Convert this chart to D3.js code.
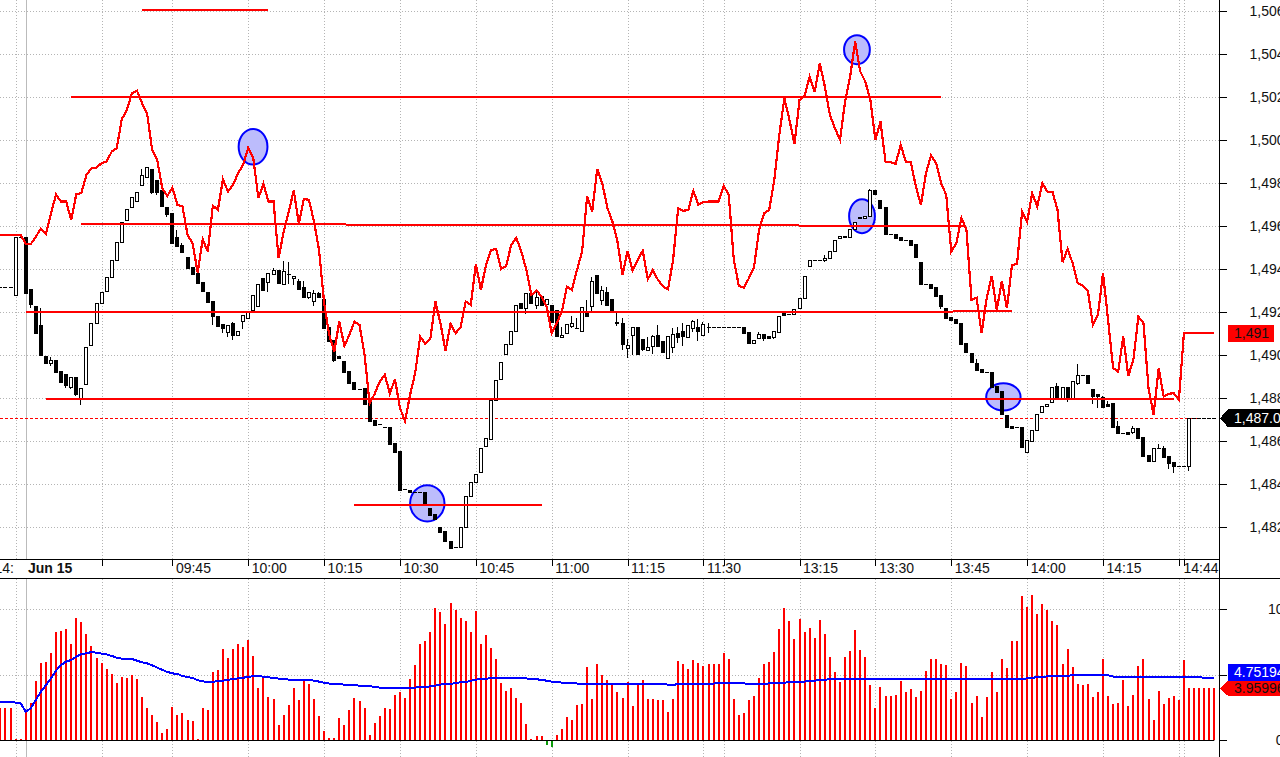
<!DOCTYPE html>
<html>
<head>
<meta charset="utf-8">
<script src="https://cdnjs.cloudflare.com/ajax/libs/d3/7.8.5/d3.min.js"></script>
<style>
  html, body { margin: 0; padding: 0; background: #fff; overflow: hidden; }
  svg { display: block; }
  text { font-family: "Liberation Sans", Arial, sans-serif; font-size: 14px; fill: #111; }
</style>
</head>
<body>
<svg id="chart" width="1280" height="757"></svg>
<script>
// first bar in the arrays is bar -5, bar 0 is the open of Jun 15
const firstBar = -5;

const opens = [1493.17,1493.17,1493.17,1492.80,1495.49,
  1495.49,1493.07,1492.30,1491.41,1489.97,1489.66,1489.77,1489.27,1489.12,1488.54,
  1488.98,1487.96,1488.66,1490.47,1491.49,1492.42,1493.01,1493.63,1494.42,1495.29,
  1496.27,1496.89,1497.17,1497.91,1498.31,1498.67,1498.16,1497.69,1496.90,1496.64,
  1495.49,1495.14,1494.56,1494.10,1493.82,1493.40,1492.93,1492.52,1491.82,1491.46,
  1491.07,1491.51,1490.94,1491.59,1491.73,1492.13,1492.27,1493.59,1493.40,1493.80,
  1493.96,1493.31,1493.80,1493.59,1493.46,1493.17,1492.70,1492.54,1492.89,1492.61,
  1491.31,1490.72,1489.96,1489.74,1489.27,1488.75,1488.45,1488.47,1487.82,1486.98,
  1486.80,1486.66,1486.66,1485.93,1485.54,1483.77,1483.73,1483.63,1483.63,1483.63,
  1482.90,1482.62,1482.01,1481.83,1481.37,1481.08,1481.10,1482.01,1483.45,1484.10,
  1484.56,1485.77,1486.13,1487.91,1488.89,1490.08,1490.52,1491.12,1492.44,1492.19,
  1492.89,1492.33,1492.76,1492.38,1492.33,1492.11,1490.87,1491.06,1491.38,1491.29,
  1491.15,1491.99,1492.27,1493.74,1492.59,1492.95,1492.62,1491.55,1491.51,1490.36,
  1490.94,1491.32,1490.76,1490.24,1490.42,1490.95,1490.66,1489.89,1490.40,1491.04,
  1491.13,1490.87,1491.29,1491.32,1490.96,1491.32,1491.31,1491.31,1491.31,1491.31,
  1491.31,1491.31,1491.32,1491.07,1490.59,1490.82,1490.98,1490.89,1490.87,1491.10,
  1491.99,1491.91,1491.91,1492.19,1492.66,1494.14,1494.42,1494.42,1494.42,1494.52,
  1494.84,1495.45,1495.57,1495.49,1495.86,1496.42,1496.38,1496.47,1497.69,1497.23,
  1496.89,1495.63,1495.63,1495.49,1495.35,1495.35,1495.17,1494.33,1493.31,1493.31,
  1493.17,1492.81,1492.19,1491.77,1491.68,1491.49,1490.56,1490.10,1489.63,1489.35,
  1489.21,1489.21,1488.58,1488.33,1487.21,1486.70,1486.66,1486.66,1485.52,1486.03,
  1486.54,1487.38,1487.62,1487.85,1488.58,1488.01,1488.52,1488.01,1488.72,1489.09,
  1489.09,1488.44,1488.21,1488.05,1487.73,1487.79,1486.72,1486.38,1486.42,1486.42,
  1486.62,1486.20,1485.37,1485.10,1485.68,1485.69,1485.32,1485.04,1484.87,1484.87,
  1484.87,1487.07,1487.07,1487.07,1487.07,1487.07];

const closes = [1493.17,1493.17,1493.17,1495.49,1495.49,
  1492.92,1492.38,1491.06,1490.02,1489.63,1489.77,1489.23,1488.76,1488.62,1488.98,
  1488.21,1488.47,1490.38,1491.49,1492.42,1492.93,1493.63,1494.42,1495.26,1496.19,
  1496.80,1497.35,1497.61,1498.38,1498.75,1497.59,1497.59,1496.96,1496.58,1495.24,
  1495.09,1494.81,1494.08,1493.80,1493.38,1493.01,1492.47,1491.82,1491.38,1491.29,
  1491.40,1490.96,1491.15,1491.87,1492.05,1492.80,1493.31,1493.06,1493.82,1493.99,
  1493.34,1493.91,1493.80,1493.71,1493.07,1492.70,1492.93,1492.89,1492.70,1491.29,
  1490.68,1489.80,1489.89,1489.24,1488.73,1488.41,1488.45,1487.75,1486.96,1486.78,
  1486.80,1486.66,1485.89,1485.52,1483.75,1483.77,1483.62,1483.63,1483.63,1483.08,
  1482.58,1482.38,1481.80,1481.34,1481.06,1481.08,1482.01,1483.45,1484.10,1484.48,
  1485.68,1486.14,1487.91,1488.84,1489.68,1490.52,1491.12,1492.33,1492.22,1492.89,
  1492.45,1492.70,1492.35,1492.61,1491.57,1490.92,1490.96,1491.45,1491.49,1491.29,
  1492.24,1491.85,1493.45,1492.92,1493.03,1492.36,1492.05,1491.48,1490.54,1490.47,
  1491.31,1490.08,1490.30,1490.38,1490.89,1490.45,1490.16,1490.89,1490.98,1490.86,
  1490.90,1491.40,1491.59,1491.15,1491.45,1491.32,1491.31,1491.31,1491.31,1491.31,
  1491.31,1491.31,1491.06,1490.59,1490.70,1490.99,1490.82,1490.82,1491.12,1491.82,
  1491.89,1491.91,1492.14,1492.67,1493.68,1494.42,1494.42,1494.42,1494.52,1494.84,
  1495.38,1495.57,1495.49,1495.86,1496.19,1496.38,1496.47,1497.68,1497.52,1496.87,
  1495.63,1495.63,1495.47,1495.34,1495.35,1495.15,1494.59,1493.31,1493.31,1493.15,
  1492.78,1492.31,1491.75,1491.66,1491.52,1490.54,1490.17,1489.71,1489.32,1489.20,
  1489.21,1488.54,1488.31,1487.29,1486.68,1486.64,1486.66,1485.75,1486.05,1486.52,
  1487.26,1487.63,1487.73,1488.52,1488.01,1488.52,1488.01,1488.80,1489.08,1489.09,
  1488.73,1488.13,1488.13,1487.61,1487.66,1486.67,1486.40,1486.38,1486.36,1486.61,
  1486.16,1485.32,1485.10,1485.68,1485.68,1485.27,1484.99,1484.87,1484.87,1484.87,
  1487.07,1487.07,1487.07,1487.07,1487.07,1487.07];

// only the bars with a visible wick, keyed by bar number
const wickHighs = {3:1492.19,5:1489.94,23:1498.68,30:1495.83,31:1495.23,41:1491.54,49:1494.05,51:1494.39,52:1494.36,
  54:1493.55,55:1493.46,57:1493.04,58:1492.96,101:1493.04,106:1491.31,108:1491.82,109:1491.73,111:1492.58,112:1493.63,
  114:1493.23,115:1493.18,117:1491.99,118:1491.73,119:1490.76,123:1490.87,124:1490.95,125:1491.41,128:1491.26,129:1491.32,
  130:1491.49,132:1491.65,133:1491.68,134:1491.57,135:1491.49,145:1491.09,158:1494.67,167:1497.75,188:1489.85,204:1488.70,
  208:1489.60,213:1488.11,214:1487.88,216:1486.96,219:1486.72,224:1485.87,225:1485.80};
const wickLows = {1:1492.22,5:1489.51,8:1488.48,9:1488.45,10:1488.11,11:1487.69,25:1497.51,26:1497.46,28:1496.45,30:1495.03,
  36:1492.44,37:1491.41,38:1491.34,39:1491.06,40:1490.87,41:1490.72,43:1491.23,45:1492.08,48:1492.95,49:1493.74,52:1493.32,
  53:1493.27,56:1492.62,57:1492.31,61:1489.71,95:1490.05,99:1491.94,101:1492.17,108:1491.26,110:1491.10,112:1492.08,
  114:1492.35,117:1491.34,118:1490.26,119:1489.88,120:1490.02,122:1490.21,124:1490.07,128:1490.13,129:1490.56,130:1490.45,
  132:1491.10,133:1490.67,135:1491.03,142:1491.01,146:1490.68,147:1490.78,148:1490.78,158:1494.33,181:1492.14,206:1487.85,
  208:1488.62,211:1487.74,212:1487.57,219:1486.34,226:1484.73,227:1484.54,230:1484.64};

const redLine = [1495.61,1495.61,1495.61,1495.61,1495.61,
  1495.18,1495.17,1495.52,1495.88,1495.63,1496.61,1497.47,1497.15,1497.15,1496.30,
  1497.49,1497.54,1498.39,1498.70,1498.73,1498.94,1499.01,1499.47,1499.63,1500.98,
  1501.41,1502.19,1502.31,1501.73,1501.26,1499.55,1499.09,1497.77,1497.41,1497.80,
  1497.00,1496.92,1495.60,1495.21,1493.85,1495.40,1494.82,1496.96,1496.76,1498.19,
  1497.61,1497.93,1498.47,1498.86,1499.66,1499.17,1497.31,1497.97,1497.15,1497.15,
  1494.52,1495.74,1496.67,1497.66,1496.14,1497.27,1497.23,1496.22,1494.90,1492.44,
  1490.95,1490.17,1491.57,1490.44,1490.95,1491.57,1491.41,1490.02,1487.77,1488.21,
  1488.78,1489.09,1488.21,1488.90,1487.54,1486.95,1488.16,1489.17,1490.87,1490.53,
  1490.76,1492.50,1491.49,1490.21,1491.46,1491.03,1491.31,1492.50,1492.35,1494.25,
  1493.04,1494.20,1494.90,1494.94,1494.02,1494.16,1495.14,1495.46,1494.82,1493.97,
  1492.81,1493.01,1492.73,1492.27,1491.03,1491.49,1492.03,1493.20,1493.04,1493.97,
  1494.82,1497.38,1496.68,1498.67,1498.00,1496.86,1496.22,1495.29,1493.74,1494.86,
  1493.94,1494.44,1494.87,1493.54,1493.97,1493.51,1493.20,1493.07,1494.44,1496.84,
  1496.72,1496.76,1497.65,1497.00,1497.12,1497.15,1497.15,1497.15,1497.89,1497.46,
  1494.44,1493.23,1493.15,1493.59,1494.10,1495.83,1496.61,1496.76,1498.16,1500.25,
  1501.96,1500.95,1499.83,1501.88,1502.06,1502.96,1502.26,1503.59,1502.50,1501.18,
  1500.56,1500.02,1501.80,1502.96,1504.59,1503.20,1502.73,1501.88,1500.02,1500.87,
  1499.01,1498.98,1498.90,1499.79,1499.01,1498.98,1497.85,1497.00,1498.47,1499.29,
  1498.94,1498.00,1497.46,1494.82,1495.21,1496.39,1495.83,1492.58,1492.68,1491.03,
  1492.66,1493.69,1492.11,1493.46,1492.19,1494.20,1494.25,1496.68,1496.22,1497.54,
  1496.92,1498.00,1497.61,1497.61,1496.76,1494.33,1494.95,1494.28,1493.35,1493.24,
  1493.01,1491.41,1491.88,1493.82,1491.65,1489.40,1489.24,1490.87,1489.04,1489.79,
  1491.80,1491.49,1488.47,1487.23,1489.40,1488.08,1488.21,1488.24,1487.93,1491.03,
  1491.03,1491.03,1491.03,1491.03,1491.03,1491.03];

const volumes = [2.47,2.47,2.47,0.10,0.10,
  2.16,2.85,4.53,5.90,5.98,6.67,8.27,8.35,8.50,7.35,
  9.34,9.03,8.12,7.20,6.28,5.90,5.45,5.06,4.38,4.83,
  4.76,4.99,4.68,3.31,2.47,1.93,1.40,0.56,0.87,2.54,
  1.93,2.09,1.55,1.48,0.10,2.47,2.32,5.22,5.37,6.97,
  6.28,6.97,7.35,7.12,7.66,6.44,3.99,4.91,3.31,3.16,
  1.17,1.93,2.70,3.99,3.08,4.61,4.30,3.16,1.86,0.71,
  0.18,0.18,1.70,1.17,2.32,3.23,3.00,2.47,0.41,1.32,
  1.86,2.47,2.39,3.46,3.69,3.23,4.68,5.75,7.35,7.58,
  8.27,10.10,9.80,8.88,10.48,9.95,9.34,9.11,8.27,9.87,
  7.35,8.04,7.05,6.21,4.38,3.77,3.99,3.23,2.85,1.25,
  0.10,0.33,0.33,-0.36,-0.51,0.41,0.87,1.78,1.55,2.70,
  2.77,5.60,3.16,5.83,4.99,4.61,4.22,3.69,3.23,4.45,
  2.62,4.38,4.61,3.16,3.16,3.08,3.08,2.16,3.16,6.06,
  5.83,5.45,6.13,5.90,5.67,5.83,5.83,5.83,6.67,6.21,
  3.16,1.93,2.09,3.08,3.38,4.76,5.83,5.98,6.74,8.50,
  10.10,9.11,7.74,9.26,8.27,8.58,7.81,9.19,8.12,6.36,
  5.22,4.45,6.36,6.82,8.42,6.90,6.36,4.22,2.47,4.07,
  3.38,3.38,3.46,4.53,3.69,3.92,3.31,3.77,5.29,6.21,
  6.21,5.83,5.75,3.16,3.69,5.90,5.67,2.85,3.38,1.78,
  3.31,5.22,3.69,6.21,5.52,7.58,7.58,11.02,10.18,11.09,
  9.64,10.41,9.95,9.11,8.80,5.83,6.97,5.60,4.30,4.22,
  4.30,3.31,3.69,6.21,3.38,2.77,2.85,4.61,2.62,3.46,
  5.67,6.21,3.16,1.55,3.77,2.77,3.23,3.38,3.08,6.13,
  3.96,3.96,3.96,3.96,3.96,3.96];

const volumeAverage = [2.93,2.93,2.93,2.88,2.82,
  2.19,2.44,3.08,3.71,4.22,4.73,5.32,5.75,6.01,6.13,
  6.39,6.59,6.64,6.74,6.69,6.62,6.56,6.44,6.31,6.23,
  6.21,6.21,6.08,5.95,5.88,5.73,5.55,5.37,5.22,5.11,
  5.06,4.91,4.83,4.76,4.58,4.50,4.45,4.45,4.53,4.55,
  4.61,4.68,4.73,4.78,4.83,4.91,4.91,4.86,4.81,4.76,
  4.71,4.68,4.63,4.61,4.61,4.61,4.61,4.55,4.48,4.40,
  4.33,4.30,4.30,4.25,4.25,4.22,4.17,4.15,4.15,4.07,
  4.02,4.02,4.02,4.02,4.02,4.02,4.02,4.02,4.07,4.07,
  4.12,4.17,4.25,4.30,4.30,4.38,4.43,4.45,4.55,4.63,
  4.68,4.71,4.73,4.76,4.78,4.78,4.78,4.78,4.78,4.73,
  4.66,4.66,4.61,4.55,4.48,4.48,4.40,4.40,4.40,4.33,
  4.30,4.30,4.30,4.30,4.30,4.30,4.30,4.30,4.30,4.30,
  4.30,4.30,4.30,4.30,4.30,4.30,4.30,4.25,4.22,4.30,
  4.30,4.30,4.30,4.33,4.33,4.33,4.33,4.38,4.38,4.38,
  4.40,4.40,4.35,4.30,4.30,4.30,4.30,4.35,4.38,4.40,
  4.40,4.43,4.45,4.48,4.48,4.55,4.55,4.61,4.63,4.66,
  4.68,4.68,4.68,4.68,4.68,4.68,4.68,4.68,4.68,4.68,
  4.68,4.68,4.68,4.68,4.68,4.68,4.68,4.68,4.68,4.68,
  4.68,4.68,4.68,4.68,4.68,4.68,4.68,4.68,4.68,4.68,
  4.68,4.68,4.68,4.68,4.68,4.68,4.68,4.68,4.73,4.78,
  4.81,4.83,4.88,4.91,4.91,4.93,4.93,4.96,4.96,4.96,
  4.96,4.96,4.96,4.96,4.96,4.86,4.86,4.86,4.86,4.86,
  4.86,4.86,4.86,4.86,4.86,4.86,4.86,4.86,4.86,4.86,
  4.86,4.86,4.86,4.75,4.75,4.75];

const priceTicks = [1482,1484,1486,1488,1490,1492,1494,1496,1498,1500,1502,1504,1506];
const volumeTicks = [0,5,10];
const volumeTickLabels = ["0","","10"];

const timeTicks = [15,29,44,59,74,89,104,119,134,138,153,168,183,198,213,228,229];
const timeLabels = ["","09:45","10:00","10:15","10:30","10:45","11:00","11:15","11:30","","13:15","13:30","13:45","14:00","14:15","","14:44"];
const gridBars = [-2].concat(timeTicks);
const sessionBar = 0;

// trend lines: bar from, bar to, price from, price to
const levelBarsFrom = [23,9,11,0,4,65];
const levelBarsTo = [48,181,186,195,227,102];
const levelPricesFrom = [1506.04,1502.02,1496.11,1491.99,1487.99,1483.04];
const levelPricesTo = [1506.04,1502.02,1496.02,1492.04,1487.97,1483.04];

// circled spots: left bar, right bar, top price, bottom price
const circleLeft = [42.1,161.8,162.8,76,189.9];
const circleRight = [47.8,166.9,167.9,82.8,196.7];
const circleTop = [1500.53,1504.89,1497.26,1483.96,1488.70];
const circleBottom = [1498.87,1503.54,1495.68,1482.27,1487.43];

const lastPrice = 1487.07;
const lastRedValue = 1491.03;

const svg = d3.select("#chart");
const right = 1219.5;

const x = d3.scaleLinear().domain([0, 230]).range([25.7, 1189]);
const yPrice = d3.scaleLinear().domain([1482, 1506]).range([527.3, 11.3]);
const yVol = d3.scaleLinear().domain([0, 10]).range([740.3, 609.3]);

const bars = d3.range(firstBar, firstBar + opens.length);
const crisp = v => Math.round(v) + 0.5;

// grid
const grid = svg.append("g").attr("fill", "none").attr("stroke", "#b4b4b4").attr("stroke-dasharray", "1 2");
gridBars.forEach(b => {
  grid.append("line").attr("x1", crisp(x(b))).attr("x2", crisp(x(b))).attr("y1", 0).attr("y2", 559);
  grid.append("line").attr("x1", crisp(x(b))).attr("x2", crisp(x(b))).attr("y1", 579).attr("y2", 757);
});
priceTicks.forEach(p => {
  grid.append("line").attr("x1", 0).attr("x2", right).attr("y1", crisp(yPrice(p))).attr("y2", crisp(yPrice(p)));
});
[5, 10].forEach(v => {
  grid.append("line").attr("x1", 0).attr("x2", right).attr("y1", crisp(yVol(v))).attr("y2", crisp(yVol(v)));
});
// session start, plain grey line
[[0, 559], [579, 757]].forEach(r => {
  svg.append("line").attr("x1", crisp(x(sessionBar))).attr("x2", crisp(x(sessionBar)))
    .attr("y1", r[0]).attr("y2", r[1]).attr("stroke", "#bbb");
});

// circles go under the candles
svg.append("g").selectAll("ellipse").data(circleLeft).join("ellipse")
  .attr("cx", (d, i) => (x(d) + x(circleRight[i])) / 2)
  .attr("cy", (d, i) => (yPrice(circleTop[i]) + yPrice(circleBottom[i])) / 2)
  .attr("rx", (d, i) => (x(circleRight[i]) - x(d)) / 2)
  .attr("ry", (d, i) => (yPrice(circleBottom[i]) - yPrice(circleTop[i])) / 2)
  .attr("fill", "#bcbcfc").attr("stroke", "#0000ff").attr("stroke-width", 2);

// last price dashed line
svg.append("line").attr("x1", 0).attr("x2", 1198).attr("y1", crisp(yPrice(lastPrice))).attr("y2", crisp(yPrice(lastPrice)))
  .attr("stroke", "#f00").attr("stroke-dasharray", "3 2");

// candles
const candles = svg.append("g").attr("shape-rendering", "crispEdges");
bars.forEach((b, i) => {
  const o = opens[i], c = closes[i];
  const px = Math.round(x(b));
  const top = Math.round(yPrice(Math.max(o, c)));
  const bot = Math.round(yPrice(Math.min(o, c)));
  if (wickHighs[b] !== undefined || wickLows[b] !== undefined) {
    const hi = wickHighs[b] !== undefined ? wickHighs[b] : Math.max(o, c);
    const lo = wickLows[b] !== undefined ? wickLows[b] : Math.min(o, c);
    candles.append("line").attr("x1", px - 0.5).attr("x2", px - 0.5)
      .attr("y1", yPrice(hi)).attr("y2", yPrice(lo)).attr("stroke", "#000");
  }
  if (bot - top < 1) {
    candles.append("line").attr("x1", px - 2).attr("x2", px + 2)
      .attr("y1", top + 0.5).attr("y2", top + 0.5).attr("stroke", "#000");
  } else if (c >= o) {
    candles.append("rect").attr("x", px - 1.5).attr("y", top + 0.5).attr("width", 3).attr("height", bot - top)
      .attr("fill", "#fff").attr("stroke", "#000");
  } else {
    candles.append("rect").attr("x", px - 2).attr("y", top).attr("width", 4).attr("height", bot - top + 1)
      .attr("fill", "#000");
  }
});

// red line
svg.append("path").datum(redLine)
  .attr("fill", "none").attr("stroke", "#f00").attr("stroke-width", 2.2).attr("shape-rendering", "crispEdges")
  .attr("d", d3.line().x((d, i) => x(i + firstBar)).y(d => yPrice(d)));

// level lines
svg.append("g").selectAll("line").data(levelBarsFrom).join("line")
  .attr("x1", d => x(d))
  .attr("x2", (d, i) => x(levelBarsTo[i]))
  .attr("y1", (d, i) => yPrice(levelPricesFrom[i]))
  .attr("y2", (d, i) => yPrice(levelPricesTo[i]))
  .attr("stroke", "#f00").attr("stroke-width", 2).attr("shape-rendering", "crispEdges");

// volume panel
svg.append("g").selectAll("rect").data(volumes).join("rect")
  .attr("x", (d, i) => Math.round(x(i + firstBar)) - 1)
  .attr("y", d => d >= 0 ? yVol(d) : yVol(0))
  .attr("width", 2)
  .attr("height", d => Math.abs(yVol(d) - yVol(0)))
  .attr("fill", d => d >= 0 ? "#f00" : "#0a9a0a")
  .attr("shape-rendering", "crispEdges");

svg.append("line").attr("x1", 0).attr("x2", x(235)).attr("y1", crisp(yVol(0))).attr("y2", crisp(yVol(0)))
  .attr("stroke", "#000");

svg.append("path").datum(volumeAverage)
  .attr("fill", "none").attr("stroke", "#0000ff").attr("stroke-width", 2).attr("shape-rendering", "crispEdges")
  .attr("d", d3.line().x((d, i) => x(i + firstBar)).y(d => yVol(d)));

// time axis
const xAxis = d3.axisBottom(x).tickValues(timeTicks).tickSize(6).tickSizeOuter(0)
  .tickFormat((d, i) => timeLabels[i]);
const gx = svg.append("g").attr("transform", "translate(0,559.5)").call(xAxis);
gx.select(".domain").remove();
gx.selectAll("line").attr("stroke", "#000").attr("shape-rendering", "crispEdges");
gx.selectAll("text").attr("text-anchor", "start").attr("x", (d, i) => i === timeTicks.length - 1 ? -1 : 3).attr("y", 0).attr("dy", "0.95em");
gx.attr("font-size", null).attr("font-family", null);
svg.append("text").attr("x", 28).attr("y", 573).attr("font-weight", "bold").text("Jun 15");
svg.append("text").attr("x", 14).attr("y", 573).attr("text-anchor", "end").text("14:");

// frame lines
svg.append("line").attr("x1", 0).attr("x2", right).attr("y1", 559.5).attr("y2", 559.5).attr("stroke", "#000");
svg.append("line").attr("x1", 0).attr("x2", 1280).attr("y1", 578.5).attr("y2", 578.5).attr("stroke", "#000");

// price and volume axes
const yAxis = d3.axisRight(yPrice).tickValues(priceTicks).tickSize(7).tickPadding(23).tickFormat(d3.format(","));
const gy = svg.append("g").attr("transform", `translate(${right},0)`).call(yAxis);
const volAxis = d3.axisRight(yVol).tickValues(volumeTicks).tickSize(7).tickPadding(23)
  .tickFormat((d, i) => volumeTickLabels[i]);
const gv = svg.append("g").attr("transform", `translate(${right},0)`).call(volAxis);
[gy, gv].forEach(g => {
  g.attr("font-size", null).attr("font-family", null);
  g.select(".domain").remove();
  g.selectAll("line").attr("stroke", "#000").attr("shape-rendering", "crispEdges");
});
gv.selectAll("text").attr("x", 64).attr("text-anchor", "end");
svg.append("line").attr("x1", right).attr("x2", right).attr("y1", 0).attr("y2", 757).attr("stroke", "#000");

// value tags on the right
function tag(yc, fill, textFill, label, arrow, boxRight, h) {
  const up = yc - h / 2, dn = yc + h / 2;
  const pts = arrow
    ? [[1220, yc], [1228, up], [boxRight, up], [boxRight, dn], [1228, dn]]
    : [[1228, up], [boxRight, up], [boxRight, dn], [1228, dn]];
  svg.append("polygon").attr("points", pts.join(" ")).attr("fill", fill).attr("shape-rendering", "crispEdges");
  svg.append("text").attr("x", 1234).attr("y", yc + 5).style("fill", textFill).text(label);
}
tag(yPrice(lastRedValue), "#f00", "#111", d3.format(",")(Math.round(lastRedValue)), false, 1274, 17);
tag(yPrice(lastPrice), "#000", "#fff", d3.format(",.1f")(Math.floor(lastPrice * 10) / 10), true, 1280, 18);
tag(yVol(volumeAverage[volumeAverage.length - 1]) - 6, "#0000ff", "#fff", "4.75194", false, 1280, 17);
tag(yVol(volumes[volumes.length - 1]), "#f00", "#111", "3.95996", true, 1280, 15);
</script>
</body>
</html>
